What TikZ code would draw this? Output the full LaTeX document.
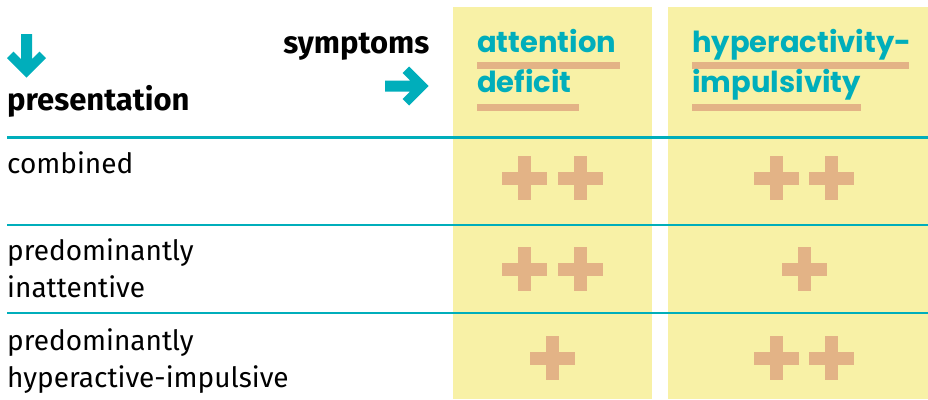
\documentclass[tikz,border=0pt]{standalone}
\usepackage{fontspec}
\setmainfont{Fira Sans}
\newfontfamily\headfont{Poppins}
\definecolor{tealCol}{HTML}{00AEBB}
\definecolor{yellowCol}{HTML}{F8F1A6}
\definecolor{tanCol}{HTML}{E3B386}

\begin{document}
\begin{tikzpicture}
[x=1pt,y=-1pt,
  colFill/.style={fill=yellowCol},%
  rowLine/.style={draw=tealCol,line width=2.5pt},%
  bodyText/.style={font=\fontsize{28}{37}\selectfont,anchor=base west,inner sep=0pt,align=left},%
  headText/.style={font=\fontsize{31}{37}\selectfont\bfseries,inner sep=0pt},%
  symText/.style={font=\fontsize{29}{40}\selectfont\headfont\bfseries,text=tealCol,anchor=base west,inner sep=0pt,align=left},%
  underBar/.style={fill=tanCol},%
  chevArrow/.pic={\fill[tealCol] (-43.5,-5.5) -- (-18.5,-5.5) -- (-26,-13) -- (-19.5,-19.5)
    -- (0,0) -- (-19.5,19.5) -- (-26,13) -- (-18.5,5.5) -- (-43.5,5.5) -- cycle;}]
\useasboundingbox (0,0) rectangle (928,399);
%% yellow columns
\fill[colFill] (453,7) rectangle (652,399);
\fill[colFill] (668,7) rectangle (928,399);
%% underlines behind the symptom names
\fill[underBar] (477,61.5) rectangle (620,68.5);
\fill[underBar] (477,104) rectangle (579,111);
\fill[underBar] (692,61.5) rectangle (909,68.5);
\fill[underBar] (692,104) rectangle (861,111);
%% headers
\node (symptoms) at (429.5,53) [headText,anchor=base east] {symptoms};
\node (presentation) at (7,110) [headText,anchor=base west] {presentation};
\pic at (26.5,77.5) [rotate=-90] {chevArrow};
\pic at (428.5,86) {chevArrow};
%% (base anchor = baseline of the last line)
\node (attention) at (477,92) [symText] {attention\\deficit};
\node (hyperactivity) at (692,92) [symText] {hyperactivity-\\impulsivity};
%% row lines
\foreach \ly in {137.5, 225, 313}
{
  \draw[rowLine] (7,\ly) -- (928,\ly);
}
%% row labels
\node (combined) at (7,173) [bodyText] {combined};
\node (inattentive) at (7,297) [bodyText] {predominantly\\inattentive};
\node (hyperactive) at (7,387) [bodyText] {predominantly\\hyperactive-impulsive};
%% plus marks
\foreach \px/\py in {
  524/178, 580/178, 776/178, 831/178,
  524/269, 580/269, 804/269,
  552/358, 776/358, 831/358}
{
  \fill[tanCol] (\px-22.5,\py-6.5) rectangle ++(45,13);
  \fill[tanCol] (\px-6.5,\py-22) rectangle ++(13,44);
};
\end{tikzpicture}
\end{document}
